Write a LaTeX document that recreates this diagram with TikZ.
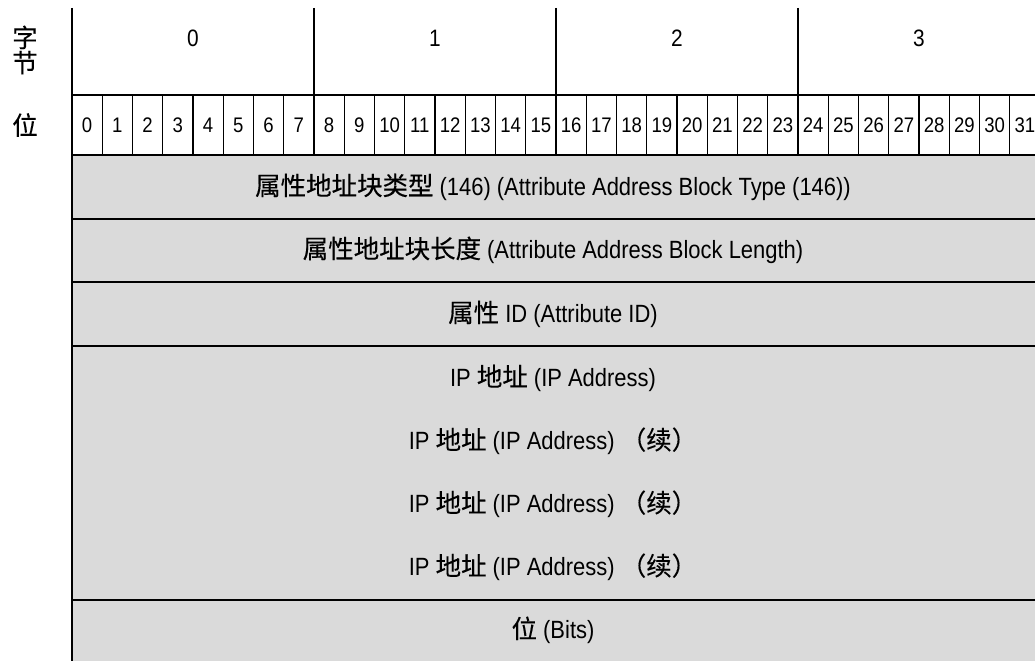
\documentclass[tikz,border=0pt]{standalone}
\usepackage{fontspec}
\setmainfont{Liberation Sans}[FakeStretch=0.88]
\newfontfamily\cjk{Noto Sans CJK SC}[FakeBold=0.3]
\usetikzlibrary{positioning}
\definecolor{fgray}{HTML}{DADADA}
\newcommand{\zh}[1]{{\cjk\fontsize{14.5}{16}\selectfont #1}}
\tikzset{
  thickline/.style={line width=1.15pt, black},
  thinline/.style={line width=0.6pt, black},
  lbl/.style={font=\fontsize{14.2}{17}\selectfont, inner sep=0pt, anchor=center},
  bytelbl/.style={font=\fontsize{13.5}{16}\selectfont, inner sep=0pt},
  bitlbl/.style={font=\fontsize{12}{14}\selectfont, inner sep=0pt},
  sidelbl/.style={font=\cjk\fontsize{14.5}{13}\selectfont, inner sep=0pt, align=center},
}

\begin{document}
\begin{tikzpicture}[x=0.02cm, y=-0.02cm]
  \useasboundingbox (0,0) rectangle (1035,661);
  \begin{scope}
    \clip (0,0) rectangle (1035,661);
    \fill[fgray] (72,155) rectangle (1040,661);
    % bit cells
    \foreach \b in {1,...,31}
      \draw[thinline] ({72+30.25*\b},95) -- ++(0,60);
    % byte borders
    \foreach \k in {1,2,3}
      \draw[thickline] ({72+242*\k},8) -- ({72+242*\k},155);
    % field borders
    \foreach \y in {95,155,219,346,600}
      \draw[thickline] (72,\y) -- (1040,\y);
    \draw[thinline] (72,282) -- (1040,282);
    \draw[thickline] (72,8) -- (72,661);
  \end{scope}

  % left labels
  \node[sidelbl] (bytehead) at (25,50) {字\\节};
  \node[sidelbl] (bithead) at (25,125) {位};

  % byte and bit numbers
  \foreach \k in {0,...,3}
    \node[bytelbl] (byte\k) at ({72+242*(\k+0.5)},38) {\k};
  \foreach \b in {0,...,31}
    \node[bitlbl] (bit\b) at ({72+30.25*(\b+0.5)},125) {\b};

  % fields
  \node[lbl] (abtype) at (553,187) {\zh{属性地址块类型} (146) (Attribute Address Block Type (146))};
  \node[lbl] (ablen) at (553,250) {\zh{属性地址块长度} (Attribute Address Block Length)};
  \node[lbl] (attrid) at (553,314) {\zh{属性} ID (Attribute ID)};
  \node[lbl] (ipaddr) at (553,378) {IP \zh{地址} (IP Address)};
  \node[lbl] (ipcont1) at (553,441) {IP \zh{地址} (IP Address) \zh{（续）}};
  \node[lbl] (ipcont2) at (553,504) {IP \zh{地址} (IP Address) \zh{（续）}};
  \node[lbl] (ipcont3) at (553,567) {IP \zh{地址} (IP Address) \zh{（续）}};
  \node[lbl] (bits) at (553,630) {\zh{位} (Bits)};
\end{tikzpicture}
\end{document}
